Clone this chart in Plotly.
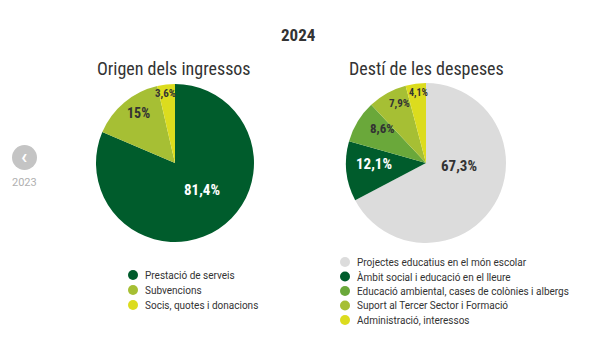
import math
import plotly.graph_objects as go

ing_labels = ["Prestació de serveis", "Subvencions", "Socis, quotes i donacions"]
ing_values = [81.4, 15.0, 3.6]
ing_text = ["81,4%", "15%", "3,6%"]
ing_colors = ["#005c2c", "#a6bf34", "#dcdc1e"]
ing_textcolors = ["#ffffff", "#333333", "#333333"]

des_labels = ["Projectes educatius en el món escolar", "Àmbit social i educació en el lleure",
              "Educació ambiental, cases de colònies i albergs", "Suport al Tercer Sector i Formació",
              "Administració, interessos"]
des_values = [67.3, 12.1, 8.6, 7.9, 4.1]
des_text = ["67,3%", "12,1%", "8,6%", "7,9%", "4,1%"]
des_colors = ["#dcdcdc", "#005c2c", "#6aa83a", "#a6bf34", "#dcdc1e"]
des_textcolors = ["#333333", "#ffffff", "#333333", "#333333", "#333333"]

W, H = 600, 338
FONT = "Roboto Condensed, Liberation Sans Narrow, Roboto, sans-serif"
LFONT = "Roboto, sans-serif"

def px(x):
    return x / W

def py(y):
    return 1 - y / H

# pie geometry (pixels) and label style: radial fraction, angular shift (deg), font size per slice
PIES = [
    dict(cx=175, cy=163, r=79, lab_r=[0.48, 0.78, 0.89], lab_shift=[-11, 4, -1.5], lab_size=[15, 14, 11]),
    dict(cx=426, cy=163, r=80, lab_r=[0.41, 0.65, 0.69, 0.82, 0.88], lab_shift=[-26, 5, 7, 5, 1],
         lab_size=[15, 15, 13, 11, 10]),
]

fig = go.Figure()
annotations = []
shapes = []

for (labels, values, texts, colors, tcolors, geo) in [
        (ing_labels, ing_values, ing_text, ing_colors, ing_textcolors, PIES[0]),
        (des_labels, des_values, des_text, des_colors, des_textcolors, PIES[1])]:
    fig.add_trace(go.Pie(
        labels=labels, values=values, text=texts, textinfo="none",
        sort=False, direction="clockwise", rotation=0,
        marker=dict(colors=colors, line=dict(width=0)),
        domain=dict(x=[px(geo["cx"] - geo["r"]), px(geo["cx"] + geo["r"])],
                    y=[py(geo["cy"] + geo["r"]), py(geo["cy"] - geo["r"])]),
        showlegend=False, hoverinfo="label+text",
    ))
    total = sum(values)
    cum = 0.0
    for i, (t, v, tc) in enumerate(zip(texts, values, tcolors)):
        mid = (cum + v / 2) / total * 2 * math.pi + math.radians(geo["lab_shift"][i])
        cum += v
        rr = geo["lab_r"][i] * geo["r"]
        x = geo["cx"] + rr * math.sin(mid)
        y = geo["cy"] - rr * math.cos(mid)
        annotations.append(dict(text=f"<b>{t}</b>", x=px(x), y=py(y), xref="paper", yref="paper",
                                xanchor="center", yanchor="middle", showarrow=False,
                                font=dict(family=FONT, size=geo["lab_size"][i], color=tc)))

# manual legends
LEGENDS = [dict(labels=ing_labels, colors=ing_colors, x=133, y0=275, dy=15),
           dict(labels=des_labels, colors=des_colors, x=345, y0=262, dy=14.5)]
for lg in LEGENDS:
    for i, (lab, col) in enumerate(zip(lg["labels"], lg["colors"])):
        yc = lg["y0"] + i * lg["dy"]
        shapes.append(dict(type="circle", xref="paper", yref="paper",
                           x0=px(lg["x"] - 5), x1=px(lg["x"] + 5), y0=py(yc + 5), y1=py(yc - 5),
                           fillcolor=col, line=dict(width=0)))
        annotations.append(dict(text=lab, x=px(lg["x"] + 10), y=py(yc), xref="paper", yref="paper",
                                xanchor="left", yanchor="middle", showarrow=False,
                                font=dict(family=LFONT, size=10, color="#333333")))

annotations += [
    dict(text="<b>2024</b>", x=px(298), y=py(35), xref="paper", yref="paper",
         xanchor="center", yanchor="middle", showarrow=False,
         font=dict(family=FONT, size=17, color="#333333")),
    dict(text="Origen dels ingressos", x=px(174), y=py(68), xref="paper", yref="paper",
         xanchor="center", yanchor="middle", showarrow=False,
         font=dict(family=FONT, size=18, color="#333333")),
    dict(text="Destí de les despeses", x=px(426), y=py(68), xref="paper", yref="paper",
         xanchor="center", yanchor="middle", showarrow=False,
         font=dict(family=FONT, size=18, color="#333333")),
    dict(text="<b>‹</b>", x=px(24), y=py(156), xref="paper", yref="paper",
         xanchor="center", yanchor="middle", showarrow=False,
         font=dict(family=LFONT, size=20, color="white")),
    dict(text="2023", x=px(24), y=py(182), xref="paper", yref="paper",
         xanchor="center", yanchor="middle", showarrow=False,
         font=dict(family=LFONT, size=11, color="#b0b0b0")),
]
shapes.append(dict(type="circle", xref="paper", yref="paper",
                   x0=px(12), x1=px(37), y0=py(170), y1=py(145),
                   fillcolor="#c4c4c4", line=dict(width=0), layer="below"))

fig.update_layout(
    width=W, height=H, margin=dict(l=0, r=0, t=0, b=0),
    paper_bgcolor="white", plot_bgcolor="white", showlegend=False,
    annotations=annotations, shapes=shapes,
)
fig.write_html("out.html")
